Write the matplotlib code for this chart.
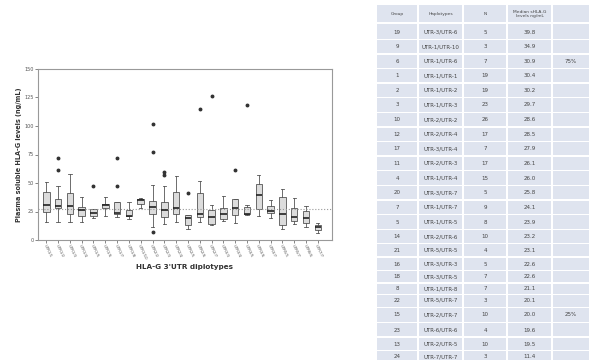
import numpy as np
import matplotlib
matplotlib.use("Agg")
import matplotlib.pyplot as plt
from matplotlib.patches import Rectangle

# boxplot data, groups 1..24
groups = list(range(1, 25))
xlabels = ["UTR1/1", "UTR1/2", "UTR1/3", "UTR1/4", "UTR1/5", "UTR1/6", "UTR1/7", "UTR1/8",
           "UTR1/10", "UTR2/2", "UTR2/3", "UTR2/4", "UTR2/5", "UTR2/6", "UTR2/7", "UTR3/3",
           "UTR3/4", "UTR3/5", "UTR3/6", "UTR3/7", "UTR5/5", "UTR5/7", "UTR6/6", "UTR7/7"]
med = [30.4, 30.2, 29.7, 26.0, 23.9, 30.9, 24.1, 21.1, 34.9, 28.6, 26.1, 28.5,
       19.5, 23.2, 20.0, 22.6, 27.9, 22.6, 39.8, 25.8, 23.1, 20.1, 19.6, 11.4]
q1 = [24.6, 28, 23, 21, 21, 28, 23, 21, 31.6, 23, 20.5, 23,
      13, 20.5, 14, 18, 22, 23, 27, 24, 13, 17, 15, 8.8]
q3 = [42.5, 36, 41.6, 29, 27, 32, 33, 26.4, 36.3, 34, 33, 42.5,
      22, 41, 26.4, 28, 35.7, 28.7, 49, 30, 37.5, 28.4, 25.5, 13]
wlo = [15.5, 16, 16, 15.5, 19, 21, 20.5, 18, 28, 11.7, 14, 15.5,
       10, 15.5, 13, 17, 14.6, 22, 21, 19.3, 10, 14, 11.7, 6]
whi = [51, 47, 58, 37.5, 27, 38, 33, 33, 36.6, 48, 47.5, 56,
       22, 52, 31, 38.7, 35.7, 30.8, 57.4, 35, 44.5, 36.6, 30, 14.6]
outliers = [[], [72, 61], [], [], [47], [], [72, 47.5], [], [], [102, 77, 7], [60, 57], [],
            [41], [115], [126], [], [61], [118], [], [], [], [], [], []]
ref_level = 27

# table data
t_header = ["Group", "Haplotypes", "N", "Median sHLA-G\nlevels ng/mL", ""]
t_group = [19, 9, 6, 1, 2, 3, 10, 12, 17, 11, 4, 20, 7, 5, 14, 21, 16, 18, 8, 22, 15, 23, 13, 24]
t_hap = ["UTR-3/UTR-6", "UTR-1/UTR-10", "UTR-1/UTR-6", "UTR-1/UTR-1", "UTR-1/UTR-2", "UTR-1/UTR-3",
         "UTR-2/UTR-2", "UTR-2/UTR-4", "UTR-3/UTR-4", "UTR-2/UTR-3", "UTR-1/UTR-4", "UTR-3/UTR-7",
         "UTR-1/UTR-7", "UTR-1/UTR-5", "UTR-2/UTR-6", "UTR-5/UTR-5", "UTR-3/UTR-3", "UTR-3/UTR-5",
         "UTR-1/UTR-8", "UTR-5/UTR-7", "UTR-2/UTR-7", "UTR-6/UTR-6", "UTR-2/UTR-5", "UTR-7/UTR-7"]
t_n = [5, 3, 7, 19, 19, 23, 26, 17, 7, 17, 15, 5, 9, 8, 10, 4, 5, 7, 7, 3, 10, 4, 10, 3]
t_med = ["39.8", "34.9", "30.9", "30.4", "30.2", "29.7", "28.6", "28.5", "27.9", "26.1", "26.0", "25.8",
         "24.1", "23.9", "23.2", "23.1", "22.6", "22.6", "21.1", "20.1", "20.0", "19.6", "19.5", "11.4"]
t_pct = {6: "75%", 15: "25%"}

W, H = 589, 360
fig = plt.figure(figsize=(W / 100, H / 100), dpi=100)
fig.patch.set_facecolor("white")

ax = fig.add_axes([38 / W, 1 - 240 / H, (332 - 38) / W, (240 - 69) / H])
stats = []
for i in range(len(groups)):
    stats.append(dict(med=med[i], q1=q1[i], q3=q3[i], whislo=wlo[i], whishi=whi[i],
                      fliers=outliers[i], label=xlabels[i]))
ax.bxp(stats, positions=np.arange(1, 25), widths=0.55, patch_artist=True,
       boxprops=dict(facecolor="#dcdcdc", edgecolor="#555555", linewidth=0.6),
       medianprops=dict(color="#222222", linewidth=1.2),
       whiskerprops=dict(color="#555555", linewidth=0.6),
       capprops=dict(color="#555555", linewidth=0.6),
       flierprops=dict(marker="o", markersize=1.8, markerfacecolor="#333333",
                       markeredgecolor="#333333"))
ax.axhline(ref_level, color="#999999", linestyle=":", linewidth=0.8)
ax.set_xlim(0.3, 25.2)
ax.set_ylim(0, 150)
ax.set_yticks([0, 25, 50, 75, 100, 125, 150])
ax.tick_params(axis="y", labelsize=3.5, length=2, width=0.5, pad=1, colors="#555555")
ax.tick_params(axis="x", labelsize=2.8, length=2, width=0.5, pad=1, colors="#555555")
plt.setp(ax.get_xticklabels(), rotation=-65, ha="left", rotation_mode="anchor")
for s in ax.spines.values():
    s.set_color("#999999")
    s.set_linewidth(0.8)
ax.set_ylabel("Plasma soluble HLA-G levels (ng/mL)", fontsize=4.7, fontweight="bold",
              color="#333333", labelpad=2)
ax.set_xlabel("HLA-G 3'UTR diplotypes", fontsize=5.2, fontweight="bold", color="#333333",
              labelpad=2)

# table drawn in pixel coordinates
tax = fig.add_axes([0, 0, 1, 1])
tax.set_xlim(0, W)
tax.set_ylim(H, 0)
tax.axis("off")
col_edges = [376, 418, 463, 507, 552, 590]
centers = [14] + [32 + 14.6 * k for k in range(13)] + [222, 237, 250, 264, 277, 289, 300,
                                                       315, 330, 344, 357]
bounds = [4] + [(centers[k] + centers[k + 1]) / 2 for k in range(len(centers) - 1)] + [364]
rows = [t_header] + [[str(t_group[k]), t_hap[k], str(t_n[k]), t_med[k], t_pct.get(t_group[k], "")]
                     for k in range(len(t_group))]
for r, row in enumerate(rows):
    y0, y1 = bounds[r], bounds[r + 1]
    for c in range(5):
        x0, x1 = col_edges[c], col_edges[c + 1]
        tax.add_patch(Rectangle((x0 + 0.7, y0 + 0.7), x1 - x0 - 1.4, y1 - y0 - 1.4,
                                facecolor="#dfe4ef", edgecolor="none"))
        fs = 3.2 if r == 0 else 4.0
        tax.text((x0 + x1) / 2, centers[r], row[c], ha="center", va="center",
                 fontsize=fs, color="#444444", linespacing=1.1)

fig.savefig("out.png", dpi=100, facecolor="white")
